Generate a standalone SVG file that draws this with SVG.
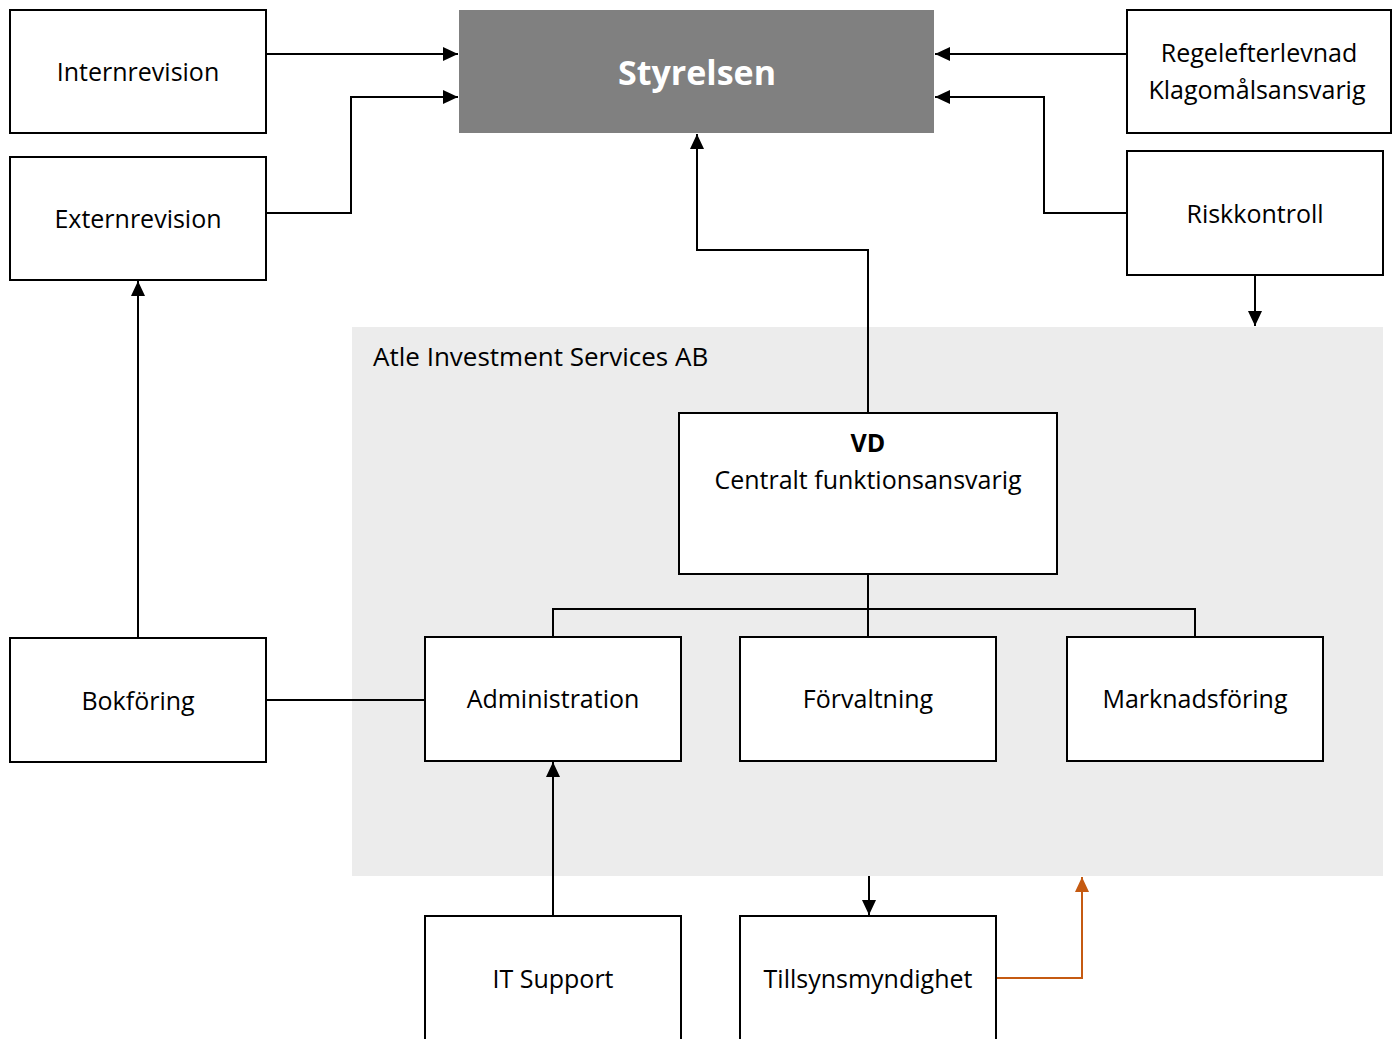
<svg xmlns="http://www.w3.org/2000/svg" width="1394" height="1039" viewBox="0 0 1394 1039">
<style>
.box{fill:#fff;stroke:#000;stroke-width:2}
.t{font-family:"Open Sans","Noto Sans","Liberation Sans",sans-serif;font-size:25px;fill:#000;text-anchor:middle}
.c{fill:none;stroke:#000;stroke-width:2}
.o{fill:none;stroke:#C55A11;stroke-width:2}
</style>
<defs>
<marker id="a" viewBox="0 0 15 14" refX="15" refY="7" markerWidth="15" markerHeight="14" markerUnits="userSpaceOnUse" orient="auto"><path d="M0,0L15,7L0,14z" fill="#000"/></marker>
<marker id="ao" viewBox="0 0 15 14" refX="15" refY="7" markerWidth="15" markerHeight="14" markerUnits="userSpaceOnUse" orient="auto"><path d="M0,0L15,7L0,14z" fill="#C55A11"/></marker>
</defs>
<rect width="1394" height="1039" fill="#fff"/>
<g id="container">
<rect x="352" y="327" width="1031" height="549" fill="#ECECEC"/>
<text x="373" y="366" class="t" style="text-anchor:start;font-size:26px">Atle Investment Services AB</text>
</g>
<g id="connectors">
<path class="c" d="M266,54H458" marker-end="url(#a)"/>
<path class="c" d="M266,213H351V97H458" marker-end="url(#a)"/>
<path class="c" d="M1127,54H935" marker-end="url(#a)"/>
<path class="c" d="M1127,213H1044V97H935" marker-end="url(#a)"/>
<path class="c" d="M1255,275V326" marker-end="url(#a)"/>
<path class="c" d="M868,413V250H697V134" marker-end="url(#a)"/>
<path class="c" d="M868,574V637M553,637V609H1195V637"/>
<path class="c" d="M138,638V281" marker-end="url(#a)"/>
<path class="c" d="M266,700H425"/>
<path class="c" d="M553,916V762" marker-end="url(#a)"/>
<path class="c" d="M869,876V915" marker-end="url(#a)"/>
<path class="o" d="M996,978H1082V877" marker-end="url(#ao)"/>
</g>
<g id="styrelsen">
<rect x="459" y="10" width="475" height="123" fill="#808080"/>
<text x="697" y="85" class="t" style="font-size:34px;font-weight:bold;fill:#fff">Styrelsen</text>
</g>
<g id="internrevision">
<rect class="box" x="10" y="10" width="256" height="123"/>
<text x="138" y="81" class="t">Internrevision</text>
</g>
<g id="externrevision">
<rect class="box" x="10" y="157" width="256" height="123"/>
<text x="138" y="228" class="t">Externrevision</text>
</g>
<g id="regelefterlevnad">
<rect class="box" x="1127" y="10" width="264" height="123"/>
<text x="1259" y="62" class="t">Regelefterlevnad</text>
<text x="1257" y="99" class="t">Klagomålsansvarig</text>
</g>
<g id="riskkontroll">
<rect class="box" x="1127" y="151" width="256" height="124"/>
<text x="1255" y="223" class="t">Riskkontroll</text>
</g>
<g id="vd">
<rect class="box" x="679" y="413" width="378" height="161"/>
<text x="868" y="452" class="t" style="font-weight:bold">VD</text>
<text x="868" y="489" class="t">Centralt funktionsansvarig</text>
</g>
<g id="administration">
<rect class="box" x="425" y="637" width="256" height="124"/>
<text x="553" y="708" class="t">Administration</text>
</g>
<g id="forvaltning">
<rect class="box" x="740" y="637" width="256" height="124"/>
<text x="868" y="708" class="t">Förvaltning</text>
</g>
<g id="marknadsforing">
<rect class="box" x="1067" y="637" width="256" height="124"/>
<text x="1195" y="708" class="t">Marknadsföring</text>
</g>
<g id="bokforing">
<rect class="box" x="10" y="638" width="256" height="124"/>
<text x="138" y="710" class="t">Bokföring</text>
</g>
<g id="itsupport">
<rect class="box" x="425" y="916" width="256" height="140"/>
<text x="553" y="988" class="t">IT Support</text>
</g>
<g id="tillsynsmyndighet">
<rect class="box" x="740" y="916" width="256" height="140"/>
<text x="868" y="988" class="t">Tillsynsmyndighet</text>
</g>
</svg>
